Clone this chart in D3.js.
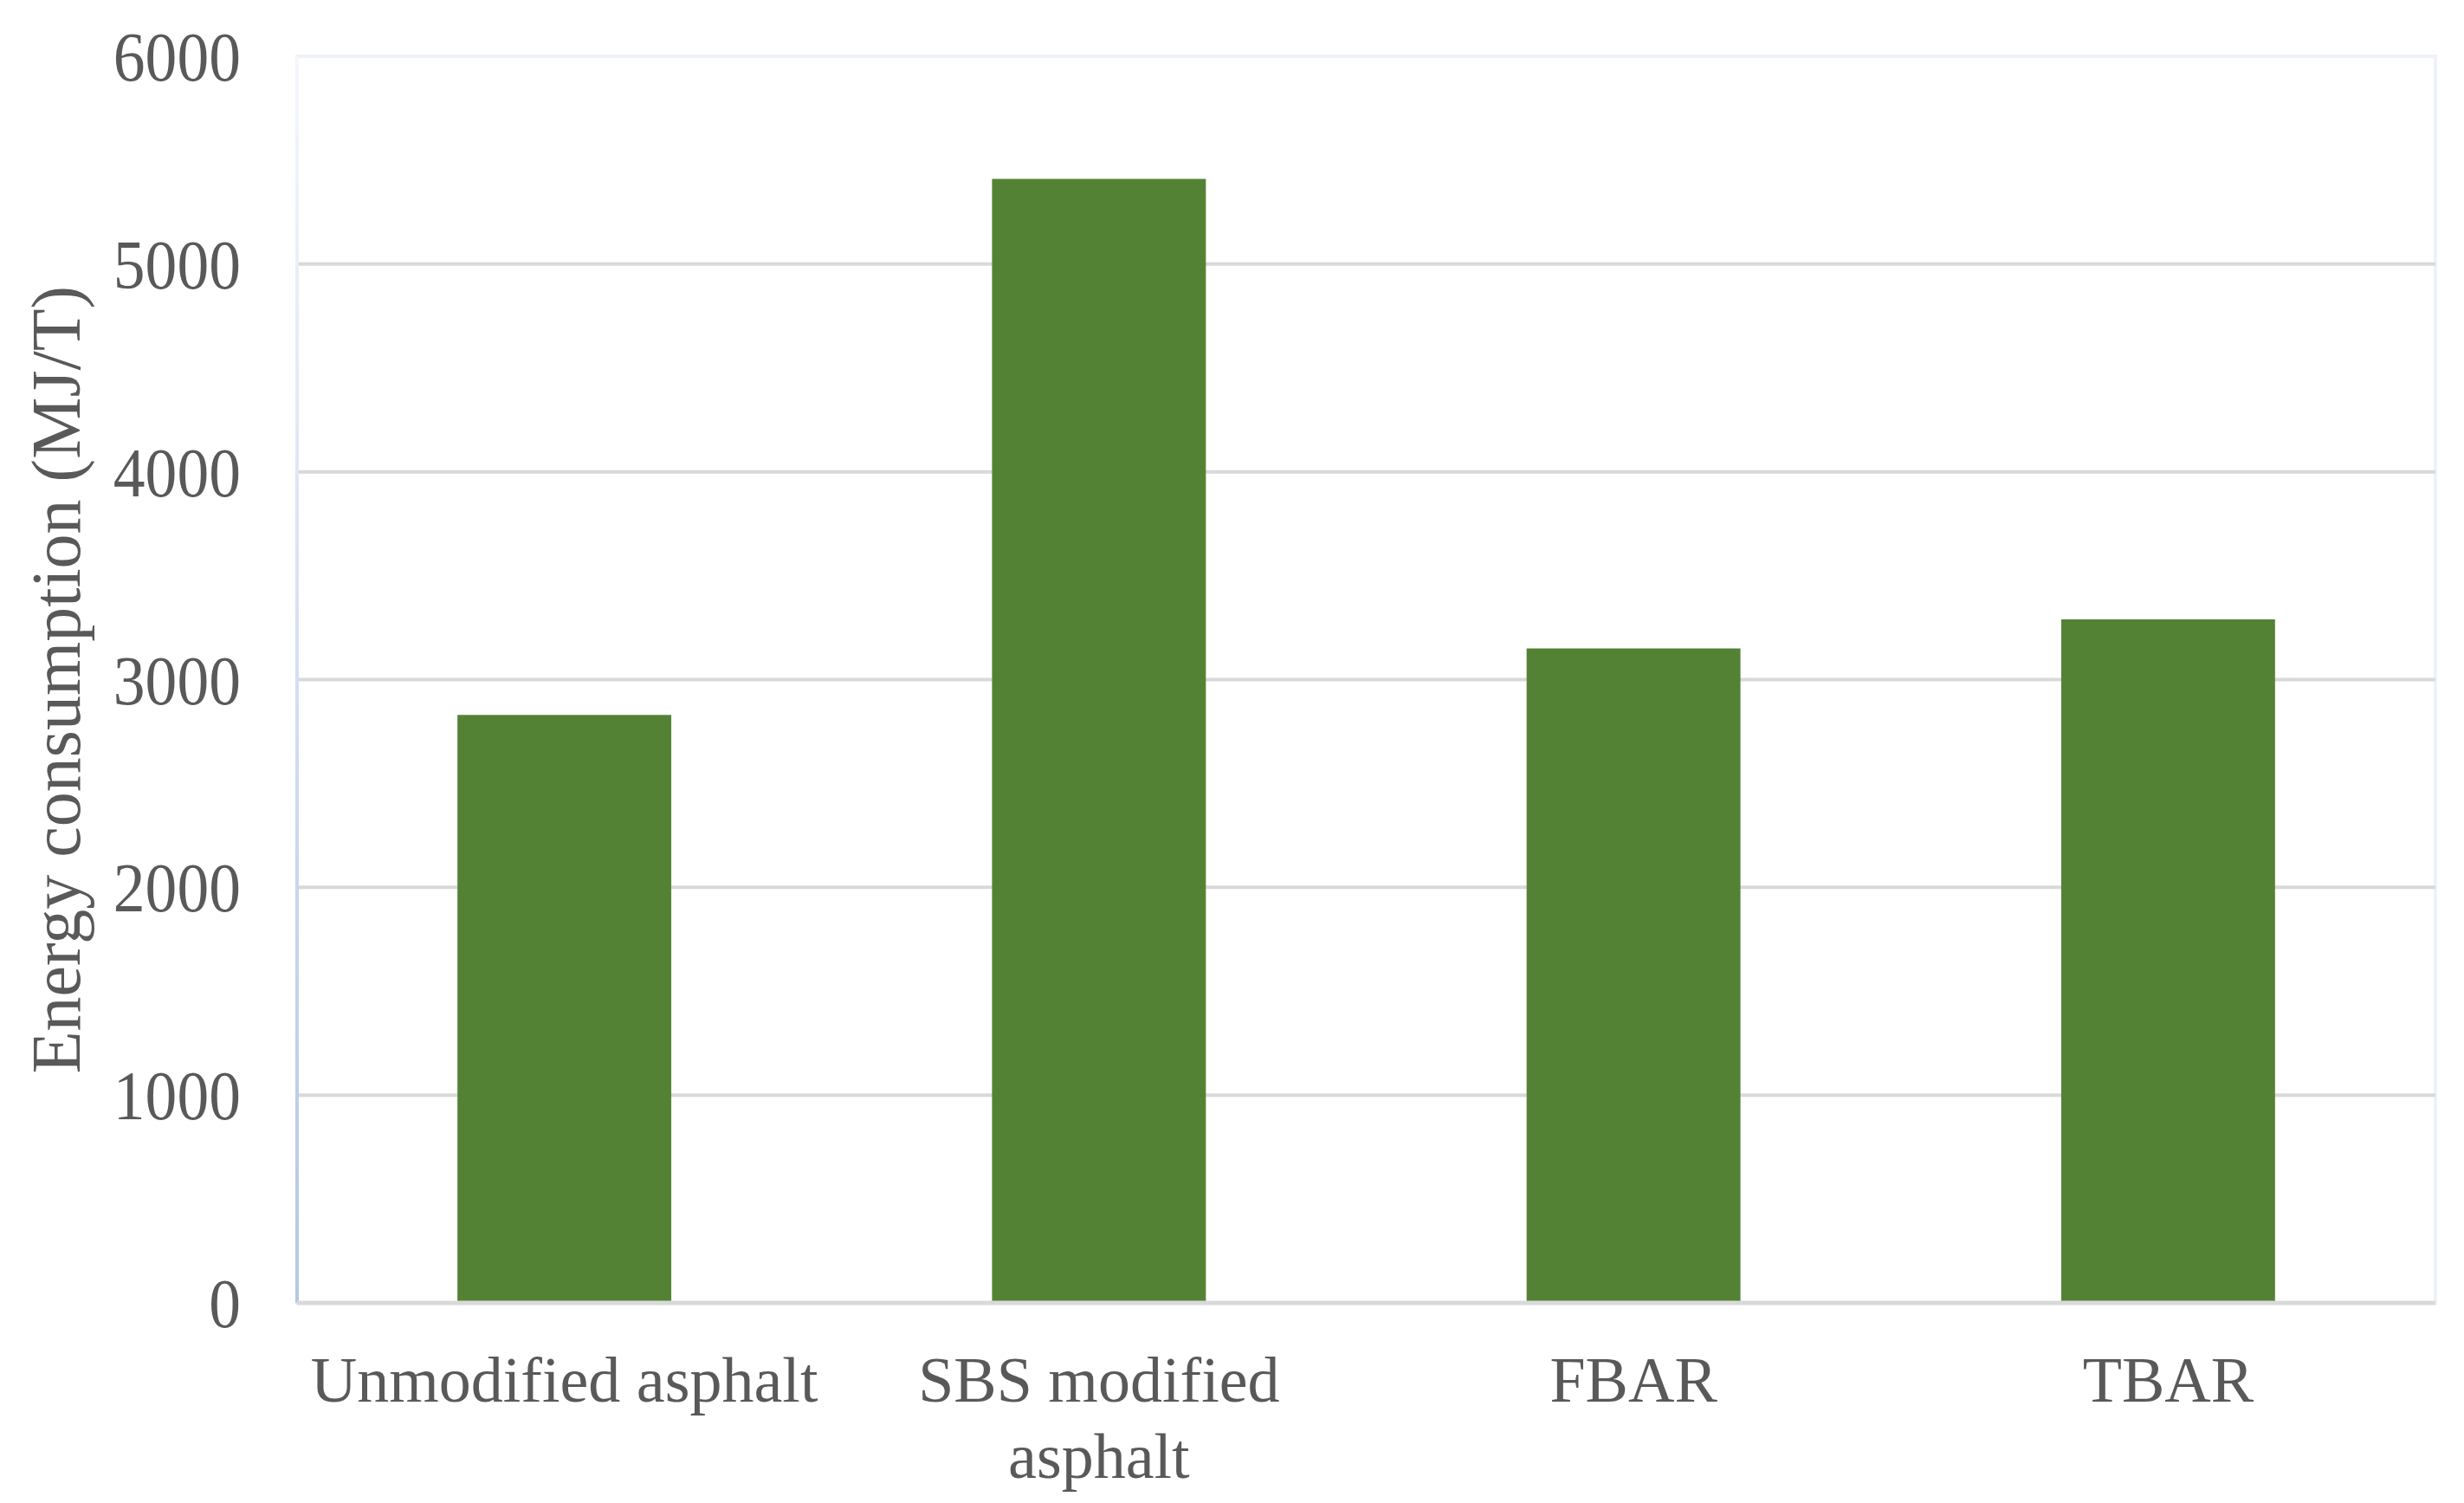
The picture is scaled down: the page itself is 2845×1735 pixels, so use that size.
<!DOCTYPE html>
<html>
<head>
<meta charset="utf-8">
<script src="https://cdn.jsdelivr.net/npm/d3@7"></script>
<style>
  body { margin: 0; background: #fff; }
  text { font-family: "Liberation Serif", "Times New Roman", serif; fill: #595959; }
</style>
</head>
<body>
<div id="chart"></div>
<script>
const categories = [["Unmodified asphalt"], ["SBS modified", "asphalt"], ["FBAR"], ["TBAR"]];
const values = [2830, 5410, 3150, 3290];
const yTicks = [0, 1000, 2000, 3000, 4000, 5000, 6000];

const W = 2845, H = 1735;
const margin = {left: 343, right: 33, top: 65, bottom: 231};

const svg = d3.select("#chart").append("svg")
    .attr("width", W).attr("height", H);

const defs = svg.append("defs");
const grad = defs.append("linearGradient").attr("id", "axisGrad")
    .attr("x1", 0).attr("y1", 0).attr("x2", 0).attr("y2", 1);
grad.append("stop").attr("offset", "0%").attr("stop-color", "#f4f7fc");
grad.append("stop").attr("offset", "100%").attr("stop-color", "#b4c7e7");

const x = d3.scaleBand()
    .domain(d3.range(categories.length))
    .range([margin.left, W - margin.right])
    .paddingInner(0.6)
    .paddingOuter(0.3);

const y = d3.scaleLinear()
    .domain([0, 6000])
    .range([H - margin.bottom, margin.top]);

// frame
svg.append("rect")
    .attr("x", margin.left).attr("y", margin.top)
    .attr("width", W - margin.left - margin.right)
    .attr("height", H - margin.top - margin.bottom)
    .attr("fill", "none").attr("stroke", "#eef2f8").attr("stroke-width", 4);

// gridlines
svg.append("g").selectAll("line")
    .data(yTicks.filter(t => t > 0 && t < 6000))
    .enter().append("line")
    .attr("x1", margin.left).attr("x2", W - margin.right)
    .attr("y1", d => y(d)).attr("y2", d => y(d))
    .attr("stroke", "#d9d9d9").attr("stroke-width", 4);

// bars
svg.append("g").selectAll("rect")
    .data(values)
    .enter().append("rect")
    .attr("x", (d, i) => x(i))
    .attr("width", x.bandwidth())
    .attr("y", d => y(d))
    .attr("height", d => y(0) - y(d))
    .attr("fill", "#548235");

// left axis line with gradient
svg.append("rect")
    .attr("x", margin.left - 2).attr("y", margin.top)
    .attr("width", 4).attr("height", y(0) - margin.top)
    .attr("fill", "url(#axisGrad)");

// baseline
svg.append("line")
    .attr("x1", margin.left).attr("x2", W - margin.right)
    .attr("y1", y(0)).attr("y2", y(0))
    .attr("stroke", "#d9d9d9").attr("stroke-width", 5);

// y tick labels
svg.append("g").selectAll("text")
    .data(yTicks)
    .enter().append("text")
    .attr("transform", d => `translate(278, ${y(d)}) scale(0.92, 1)`)
    .attr("dy", "0.35em")
    .attr("text-anchor", "end")
    .attr("font-size", 80)
    .text(d => d);

// x labels
const xl = svg.append("g").selectAll("text")
    .data(categories)
    .enter().append("text")
    .attr("text-anchor", "middle")
    .attr("font-size", 74)
    .attr("y", 1618);
xl.selectAll("tspan")
    .data((d, i) => d.map(s => ({s, i})))
    .enter().append("tspan")
    .attr("x", d => x(d.i) + x.bandwidth() / 2)
    .attr("dy", (d, j) => j === 0 ? 0 : 88)
    .text(d => d.s);

// y title
svg.append("text")
    .attr("transform", `translate(64, ${(y(0) + margin.top) / 2}) rotate(-90)`)
    .attr("text-anchor", "middle")
    .attr("dy", "0.35em")
    .attr("font-size", 80)
    .text("Energy consumption (MJ/T)");
</script>
</body>
</html>
